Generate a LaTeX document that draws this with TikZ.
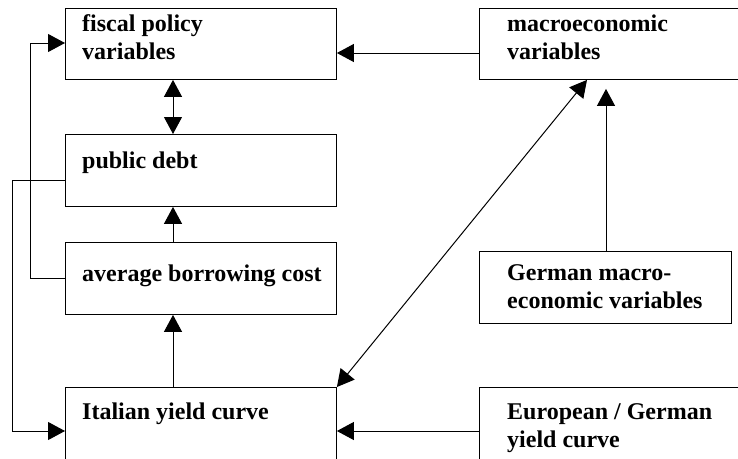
\documentclass[tikz,border=0pt]{standalone}
\usepackage{fontspec}
\setmainfont{Liberation Serif}
\usetikzlibrary{arrows.meta,calc}
\newcommand\boxtxt[1]{\begin{tabular}[t]{@{}l@{}}#1\end{tabular}}
\begin{document}
\begin{tikzpicture}[x=1pt,y=-1pt,
  box/.style={draw=black,line width=0.9pt,rectangle,inner sep=0pt,anchor=north west},
  txt/.style={anchor=base west,inner sep=0pt,font=\fontsize{24}{28}\selectfont\bfseries},
  arr/.style={line width=1pt,-{Triangle[length=17pt,width=18pt]}},
  dbl/.style={line width=1pt,{Triangle[length=17pt,width=18pt]}-{Triangle[length=17pt,width=18pt]}}]
\useasboundingbox (0,0) rectangle (738,458);
\clip (0,0) rectangle (738,458);
\fill[white] (0,0) rectangle (738,458);
% boxes
\node[box,minimum width=271pt,minimum height=71pt] (fiscal) at (65,8) {};
\node[box,minimum width=271pt,minimum height=72pt] (debt) at (65,134) {};
\node[box,minimum width=271pt,minimum height=72pt] (avg) at (65,242) {};
\node[box,minimum width=271pt,minimum height=80pt] (ital) at (65,387) {};
\node[box,minimum width=266pt,minimum height=71pt] (macro) at (479,8) {};
\node[box,minimum width=252pt,minimum height=72pt] (german) at (479,251) {};
\node[box,minimum width=266pt,minimum height=80pt] (euro) at (479,387) {};
% texts
\node[txt] (tf) at (82,31) {\boxtxt{fiscal policy\\variables}};
\node[txt] (td) at (82,168) {public debt};
\node[txt] (ta) at (82,281) {average borrowing cost};
\node[txt] (ti) at (82,419) {Italian yield curve};
\node[txt] (tm) at (507,31) {\boxtxt{macroeconomic\\variables}};
\node[txt] (tg) at (507,280) {\boxtxt{German macro-\\economic variables}};
\node[txt] (te) at (507,419) {\boxtxt{European / German\\yield curve}};
% helper coordinates
\coordinate (yA) at (0,53);
\coordinate (yB) at (0,180);
\coordinate (yC) at (0,431);
\coordinate (yD) at (0,278);
\coordinate (yE) at (0,43);
\coordinate (xA) at (173,0);
\coordinate (xL) at (12,0);
\coordinate (xM) at (30,0);
\coordinate (xB) at (587,0);
\coordinate (xC) at (606,0);
% connectors
\draw[arr] (macro.west |- yA) -- (fiscal.east |- yA);
\draw[dbl] (fiscal.south -| xA) -- (debt.north -| xA);
\draw[arr] (avg.north -| xA) -- (debt.south -| xA);
\draw[arr] (ital.north -| xA) -- (avg.south -| xA);
\draw[arr] (debt.west |- yB) -- (xL |- yB) -- (xL |- yC) -- (ital.west |- yC);
\draw[arr] (avg.west |- yD) -- (xM |- yD) -- (xM |- yE) -- (fiscal.west |- yE);
\draw[dbl] (ital.north east) -- (macro.south -| xB);
\draw[arr] (german.north -| xC) -- ($(macro.south -| xC)+(0,9)$);
\draw[arr] (euro.west |- yC) -- (ital.east |- yC);
\end{tikzpicture}
\end{document}
